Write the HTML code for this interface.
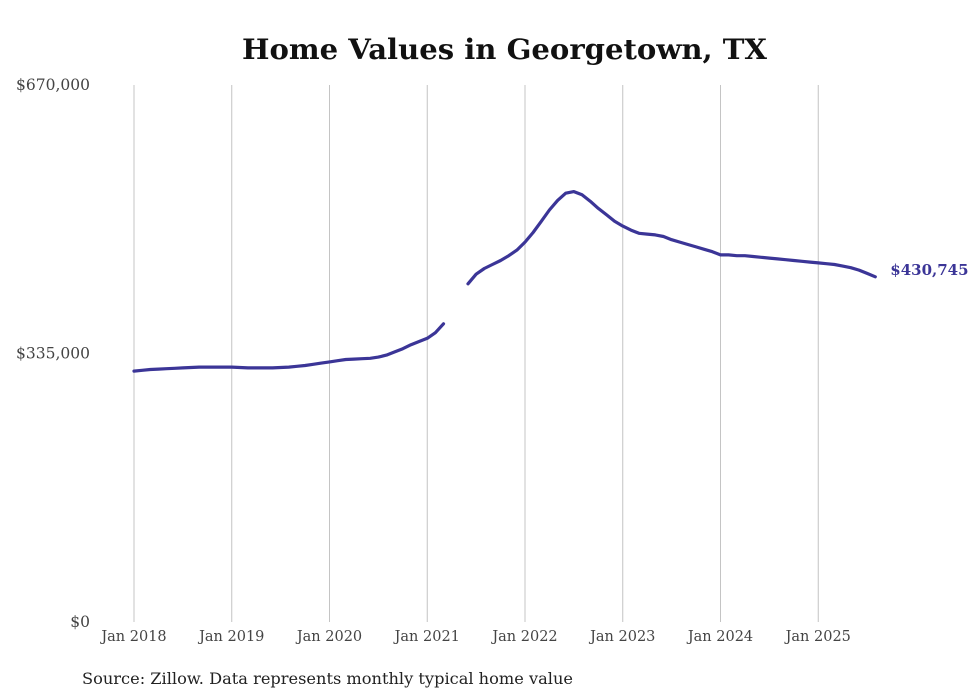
<!DOCTYPE html>
<html><head><meta charset="utf-8"><style>
body{margin:0;background:#fff;}
svg{display:block;font-family:"DejaVu Serif","Liberation Serif",serif;}
</style></head><body>
<svg id="chart" width="980" height="699">
<text x="242" y="59" textLength="525" lengthAdjust="spacingAndGlyphs" font-size="28" font-weight="bold" fill="#111">Home Values in Georgetown, TX</text>
<g id="grid"></g><g id="ylabels"></g><g id="xlabels"></g><g id="series"></g>
<text x="82" y="684" textLength="491" lengthAdjust="spacingAndGlyphs" font-size="16" fill="#222">Source: Zillow. Data represents monthly typical home value</text>
</svg>
<script>
const yTicks=[0,335000,670000];
const yTickLabels=["$0","$335,000","$670,000"];
const xTickYears=[2018,2019,2020,2021,2022,2023,2024,2025];
const startYear=2018;
// monthly values from Jan 2018 through Aug 2025; null = gap
const values=[
313000,314000,315000,315500,316000,316500,317000,317500,318000,318000,318000,318000,
318000,317500,317000,317000,317000,317000,317500,318000,319000,320000,321500,323000,
324500,326000,327500,328000,328500,329000,330500,333000,337000,341000,346000,350000,
354000,361000,372000,null,null,422000,434000,441000,446000,451000,457000,464000,
474000,486000,500000,514000,526000,535000,537000,533000,525000,516000,508000,500000,
494000,489000,485000,484000,483000,481000,477000,474000,471000,468000,465000,462000,
458000,458000,457000,457000,456000,455000,454000,453000,452000,451000,450000,449000,
448000,447000,446000,444000,442000,439000,435000,430745
];
const endLabel="$430,745";
const X=m=>134+m*(97.75/12);
const Y=v=>622-v*(537/670000);
const ns="http://www.w3.org/2000/svg";
const mk=(t,a,p)=>{const e=document.createElementNS(ns,t);for(const k in a)e.setAttribute(k,a[k]);document.getElementById(p).appendChild(e);return e;};
xTickYears.forEach((yr,i)=>{
  const x=X((yr-startYear)*12);
  const l=mk('line',{x1:x,x2:x,y1:85,y2:622,stroke:'#c4c4c4','stroke-width':1},'grid');
  
  
  const t=mk('text',{x:x,y:641,'text-anchor':'middle','font-size':14.5,fill:'#444'},'xlabels');
  t.textContent='Jan '+yr;
  
  
});
yTicks.forEach((v,i)=>{
  const t=mk('text',{x:90,y:Y(v)+5,'text-anchor':'end','font-size':15.5,fill:'#444'},'ylabels');
  t.textContent=yTickLabels[i];
  
  
});
let d='',pen=false,lastI=0;
values.forEach((v,i)=>{
  if(v===null){pen=false;return;}
  d+=(pen?'L':'M')+X(i).toFixed(1)+','+Y(v).toFixed(1);pen=true;lastI=i;
});
const p=mk('path',{d:d,fill:'none',stroke:'#3b3597','stroke-width':3.2,'stroke-linejoin':'round','stroke-linecap':'round'},'series');


const el=mk('text',{x:X(lastI)+15,y:Y(values[lastI])-2,'font-size':15,'font-weight':'bold',fill:'#3b3597'},'series');
el.textContent=endLabel;


</script>
</body></html>
